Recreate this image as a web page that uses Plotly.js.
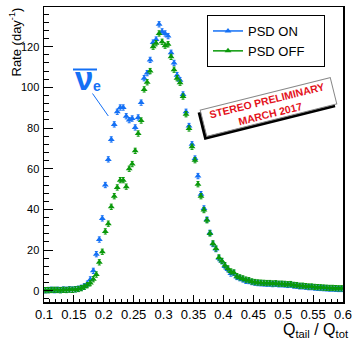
<!DOCTYPE html>
<html>
<head>
<meta charset="utf-8">
<script src="https://cdn.plot.ly/plotly-3.0.1.min.js"></script>
<style>html,body{margin:0;padding:0;background:#fff;}#chart{width:354px;height:339px;}</style>
</head>
<body>
<div id="chart"></div>
<script>
// Bin centres of Q_tail / Q_tot
const qBins = [
0.1025,0.1075,0.1125,0.1175,0.1225,0.1275,0.1325,0.1375,0.1425,0.1475,
0.1525,0.1575,0.1625,0.1675,0.1725,0.1775,0.1825,0.1875,0.1925,0.1975,
0.2025,0.2075,0.2125,0.2175,0.2225,0.2275,0.2325,0.2375,0.2425,0.2475,
0.2525,0.2575,0.2625,0.2675,0.2725,0.2775,0.2825,0.2875,0.2925,0.2975,
0.3025,0.3075,0.3125,0.3175,0.3225,0.3275,0.3325,0.3375,0.3425,0.3475,
0.3525,0.3575,0.3625,0.3675,0.3725,0.3775,0.3825,0.3875,0.3925,0.3975,
0.4025,0.4075,0.4125,0.4175,0.4225,0.4275,0.4325,0.4375,0.4425,0.4475,
0.4525,0.4575,0.4625,0.4675,0.4725,0.4775,0.4825,0.4875,0.4925,0.4975,
0.5025,0.5075,0.5125,0.5175,0.5225,0.5275,0.5325,0.5375,0.5425,0.5475,
0.5525,0.5575,0.5625,0.5675,0.5725,0.5775,0.5825,0.5875,0.5925,0.5975];

// Rate (day^-1), PSD ON
const rateOn = [
0.3,0.4,0.5,0.3,0.5,0.4,0.6,0.5,0.7,0.6,
0.8,1.0,1.5,2.2,3.5,5.6,9.8,18.0,25.2,35.6,
52.0,64.6,74.4,81.8,88.0,90.1,90.1,85.8,83.9,84.7,
80.3,85.2,92.5,104.5,107.0,113.5,122.0,123.5,131.0,127.5,
126.5,125.2,117.0,112.0,106.0,103.5,96.5,88.0,81.0,72.0,
65.0,56.4,47.5,40.5,35.0,28.5,23.0,20.5,16.0,14.5,
12.0,10.5,8.5,8.8,6.8,6.2,5.6,4.9,4.8,4.3,
4.0,3.8,3.7,3.6,3.5,3.5,3.3,3.4,3.2,3.2,
3.1,2.9,3.0,2.6,2.5,2.2,2.2,2.0,1.8,1.8,
1.6,1.5,1.4,1.3,1.2,1.1,1.1,1.0,0.9,0.9];

// Rate (day^-1), PSD OFF
const rateOff = [
0.3,0.3,0.4,0.5,0.4,0.3,0.5,0.4,0.6,0.5,
0.7,0.9,1.3,2.0,2.8,3.8,5.7,8.0,14.0,19.2,
29.2,33.0,41.3,46.5,50.8,54.4,54.4,51.2,60.0,62.3,
68.8,77.3,83.7,99.0,102.5,108.0,120.0,121.7,126.5,122.4,
120.5,121.2,115.0,108.7,104.5,102.3,95.5,86.8,79.8,70.8,
64.2,52.4,46.5,39.7,34.7,28.2,23.3,20.8,16.4,14.7,
12.6,11.0,9.5,9.0,7.2,6.6,6.1,5.5,5.2,4.6,
4.3,4.1,4.0,3.9,3.8,3.8,3.6,3.7,3.5,3.5,
3.4,3.2,3.3,2.9,2.8,2.5,2.5,2.3,2.1,2.1,
1.9,1.8,1.7,1.6,1.5,1.4,1.4,1.3,1.2,1.2];

const seriesNames = ['PSD ON', 'PSD OFF'];
const xTickVals = [0.1,0.15,0.2,0.25,0.3,0.35,0.4,0.45,0.5,0.55,0.6];
const xTickText = ['0.1','0.15','0.2','0.25','0.3','0.35','0.4','0.45','0.5','0.55','0.6'];
const yTickVals = [0,20,40,60,80,100,120];

const BLUE = '#1470f5';
const GREEN = '#0a990a';
const FONT = 'Liberation Sans, Arial, Helvetica, sans-serif';

// plot-area pixel geometry helpers (for decorations only)
const L = 44, R = 343, T = 7, B = 302;
const px = v => (v - L) / (R - L);
const py = v => (B - v) / (B - T);

// rotated box (stamp shadow) as a paper-coordinate path
function rotBox(cx, cy, w, h, deg) {
  const a = deg * Math.PI / 180;
  const ux = Math.cos(a), uy = -Math.sin(a);   // along text
  const vx = Math.sin(a), vy = Math.cos(a);    // downwards
  const pts = [[-1,-1],[1,-1],[1,1],[-1,1]].map(([s, t]) =>
    [cx + s * ux * w / 2 + t * vx * h / 2, cy + s * uy * w / 2 + t * vy * h / 2]);
  return 'M' + pts.map(p => px(p[0]).toFixed(5) + ',' + py(p[1]).toFixed(5)).join(' L') + ' Z';
}

function dataTrace(y, color) {
  return {
    x: qBins, y: y, type: 'scatter', mode: 'markers', showlegend: false,
    marker: {symbol: 'triangle-up', size: 6, color: color},
    error_y: {type: 'constant', value: 1.3, color: color, thickness: 1, width: 1.5}
  };
}
function legendTrace(name, color) {
  return {
    x: [null], y: [null], type: 'scatter', mode: 'lines+markers', name: name,
    line: {color: color, width: 1.5},
    marker: {symbol: 'triangle-up', size: 6, color: color}
  };
}

const data = [
  dataTrace(rateOn, BLUE),
  dataTrace(rateOff, GREEN),
  legendTrace(seriesNames[0] + '\u00a0\u00a0\u00a0\u00a0\u00a0', BLUE),
  legendTrace(seriesNames[1] + '\u00a0\u00a0\u00a0\u00a0', GREEN)
];

const layout = {
  width: 354, height: 339,
  margin: {l: L, r: 354 - R, t: T, b: 339 - B, pad: 0},
  paper_bgcolor: '#fff', plot_bgcolor: '#fff',
  font: {family: FONT, color: '#000'},
  showlegend: true,
  legend: {
    x: px(207), y: py(15), xanchor: 'left', yanchor: 'top',
    bgcolor: '#fff', bordercolor: '#000', borderwidth: 1,
    font: {family: FONT, size: 13, color: '#000'},
    itemwidth: 30, tracegroupgap: 2
  },
  xaxis: {
    range: [0.1, 0.6], tickvals: xTickVals, ticktext: xTickText,
    ticks: 'inside', ticklen: 7, tickwidth: 1, tickcolor: '#000',
    minor: {dtick: 0.01, ticks: 'inside', ticklen: 3.5, tickwidth: 1, tickcolor: '#000'},
    showline: true, linecolor: '#000', linewidth: 1.5, mirror: true,
    showgrid: false, zeroline: false,
    tickfont: {family: FONT, size: 13, color: '#000'}, ticklabelstandoff: 0
  },
  yaxis: {
    range: [-5.5, 139.5], tickvals: yTickVals,
    ticks: 'inside', ticklen: 9, tickwidth: 1, tickcolor: '#000',
    minor: {dtick: 4, ticks: 'inside', ticklen: 4.5, tickwidth: 1, tickcolor: '#000'},
    showline: true, linecolor: '#000', linewidth: 1.5, mirror: true,
    showgrid: false, zeroline: false,
    tickfont: {family: FONT, size: 11, color: '#000'}, ticklabelstandoff: 1
  },
  shapes: [
    {type: 'line', xref: 'paper', yref: 'paper', x0: px(73), x1: px(97), y0: py(69.5), y1: py(69.5),
     line: {color: BLUE, width: 2}},
    {type: 'line', xref: 'paper', yref: 'paper', x0: px(92.5), x1: px(108.3), y0: py(93.5), y1: py(116),
     line: {color: BLUE, width: 1}},
    {type: 'path', xref: 'paper', yref: 'paper', layer: 'above', path: rotBox(266.5, 110, 135, 28, 14),
     fillcolor: '#000', line: {width: 0}}
  ],
  annotations: [
    {text: 'Rate (day<sup>-1</sup>)', xref: 'paper', yref: 'paper', x: 0, xshift: -29, y: 1, yshift: 1,
     xanchor: 'center', yanchor: 'top', textangle: -90, showarrow: false,
     font: {family: FONT, size: 13, color: '#000'}},
    {text: 'Q<sub>tail</sub> / Q<sub>tot</sub>', xref: 'paper', yref: 'paper', x: 1, xshift: 8, y: 0, yshift: -17,
     xanchor: 'right', yanchor: 'top', showarrow: false,
     font: {family: FONT, size: 16, color: '#000'}},
    {text: 'ν', xref: 'paper', yref: 'paper', x: px(84), y: py(78), xanchor: 'center', yanchor: 'middle',
     showarrow: false, font: {family: FONT, size: 33, color: BLUE, weight: 'bold'}},
    {text: '<b>e</b>', xref: 'paper', yref: 'paper', x: px(97), y: py(86), xanchor: 'center', yanchor: 'middle',
     showarrow: false, font: {family: FONT, size: 14, color: BLUE}},
    {text: '<b>STEREO PRELIMINARY<br>MARCH 2017</b>', xref: 'paper', yref: 'paper', x: px(268.5), y: py(107),
     xanchor: 'center', yanchor: 'middle', textangle: -14, showarrow: false,
     width: 133, height: 26, borderpad: 0, borderwidth: 1, bordercolor: '#888', bgcolor: '#fff',
     font: {family: FONT, size: 10.5, color: '#e3121b'}}
  ]
};

Plotly.newPlot('chart', data, layout, {displayModeBar: false, staticPlot: true});
</script>
</body>
</html>
